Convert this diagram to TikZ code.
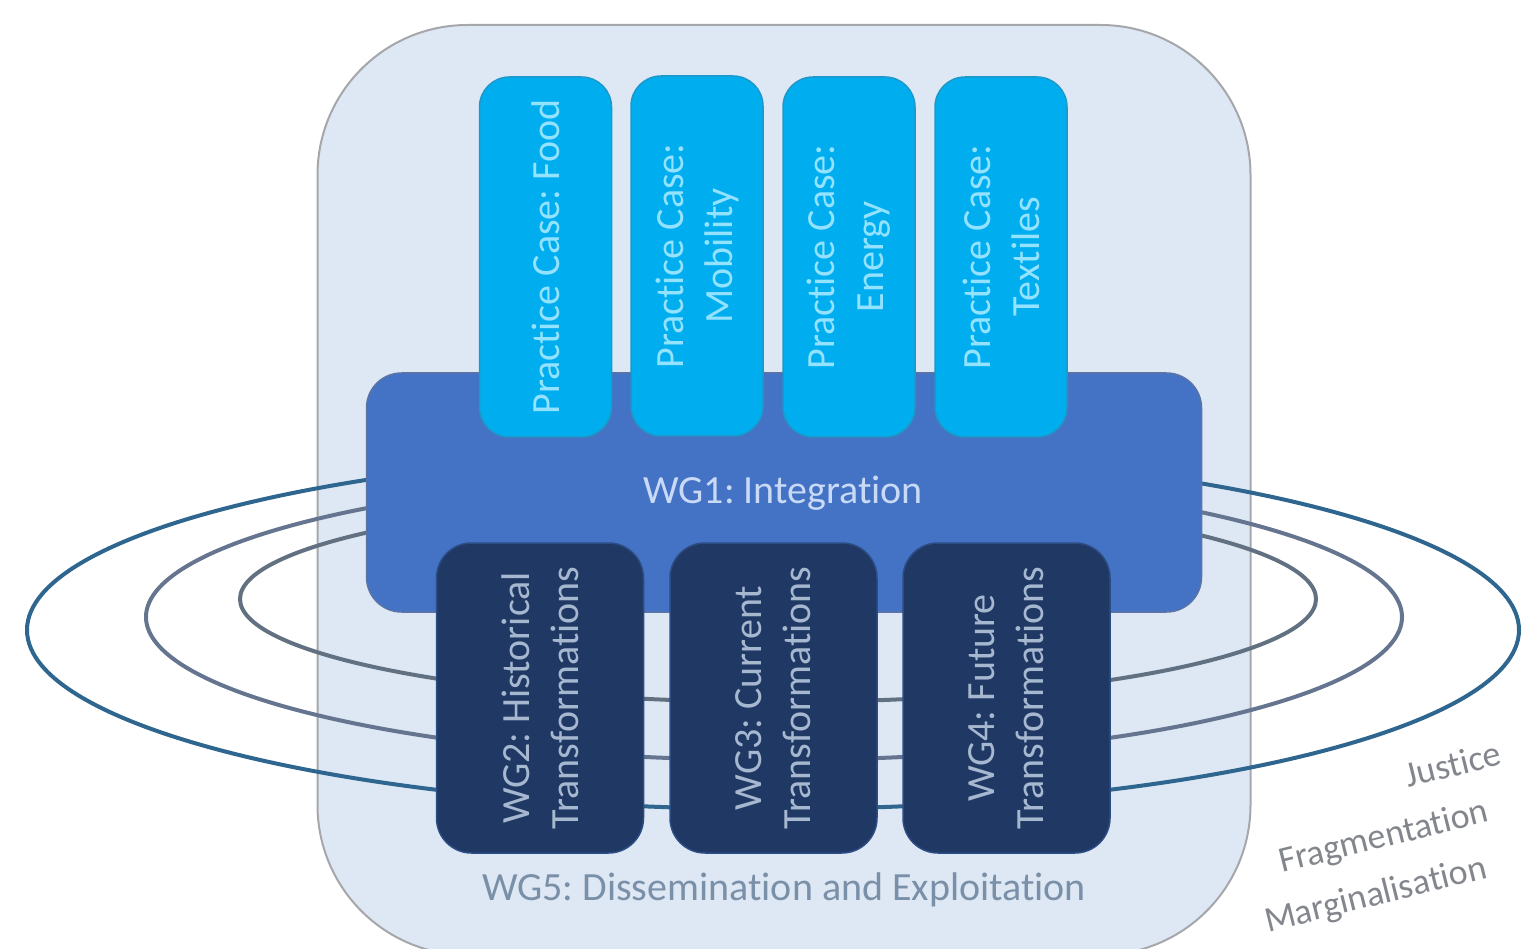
\documentclass[tikz,border=0pt]{standalone}
\usepackage{fontspec}
\setmainfont{Carlito}[Ligatures=NoCommon]
\frenchspacing
\definecolor{bgfill}{HTML}{DEE8F4}
\definecolor{bgline}{HTML}{A5A7AB}
\definecolor{wgone}{HTML}{4472C4}
\definecolor{wgoneline}{HTML}{5A74A6}
\definecolor{wgonetext}{HTML}{C8DAF5}
\definecolor{pcfill}{HTML}{00AEF0}
\definecolor{pcline}{HTML}{1E98C8}
\definecolor{pctext}{HTML}{93E2FF}
\definecolor{dkfill}{HTML}{203864}
\definecolor{dkline}{HTML}{2C4C84}
\definecolor{dktext}{HTML}{A6B8D0}
\definecolor{ringa}{HTML}{2F668F}
\definecolor{ringb}{HTML}{66758F}
\definecolor{ringc}{HTML}{627182}
\definecolor{wgfivetext}{HTML}{7A90A8}
\definecolor{themetext}{HTML}{83878D}
\begin{document}
\begin{tikzpicture}[x=1pt,y=1pt,
  bigfont/.style={font=\fontsize{40}{49}\selectfont},
  pcbox/.style={draw=pcline, line width=1.5pt, fill=pcfill, rounded corners=30pt,
    rotate=90, minimum width=360pt, minimum height=132pt, text=pctext,
    align=center, bigfont, inner sep=0pt},
  dkbox/.style={draw=dkline, line width=1.5pt, fill=dkfill, rounded corners=35pt,
    rotate=90, minimum width=310pt, minimum height=207pt, text=dktext,
    align=center, bigfont, inner sep=0pt},
  ring/.style={line width=4pt},
  theme/.style={text=themetext, rotate=14, font=\fontsize{36}{44}\selectfont, inner sep=0pt}
]
\useasboundingbox (0,0) rectangle (1532,-949);
% outer frame (WG5)
\node[draw=bgline, line width=2pt, fill=bgfill, rounded corners=150pt,
  minimum width=933pt, minimum height=930pt, inner sep=0pt] (wgfive) at (784,-490) {};
% rings
\draw[ring, draw=ringa] (773,-630) ellipse [x radius=746, y radius=179];
\draw[ring, draw=ringb] (774,-617) ellipse [x radius=628, y radius=143];
\draw[ring, draw=ringc] (778,-599) ellipse [x radius=538, y radius=103];
% WG1
\node[draw=wgoneline, line width=1.5pt, fill=wgone, rounded corners=35pt,
  minimum width=835pt, minimum height=239pt, inner sep=0pt] (wgone) at (784,-492.5) {};
\node[text=wgonetext, bigfont, anchor=center] (wgonelabel) at (783,-493) {WG1: Integration};
% practice cases
\node[pcbox] (food) at (545.5,-257) {Practice Case: Food};
\node[pcbox] (mobility) at (697,-256) {Practice Case:\\Mobility};
\node[pcbox] (energy) at (849,-257) {Practice Case:\\Energy};
\node[pcbox] (textiles) at (1001,-257) {Practice Case:\\Textiles};
% WG2-4
\node[dkbox] (wgtwo) at (540,-698) {WG2: Historical\\Transformations};
\node[dkbox] (wgthree) at (773.5,-698) {WG3: Current\\Transformations};
\node[dkbox] (wgfour) at (1006.5,-698) {WG4: Future\\Transformations};
% WG5 label
\node[text=wgfivetext, bigfont] (wgfivelabel) at (784,-890) {WG5: Dissemination and Exploitation};
% themes
\node[theme] (justice) at (1453,-764) {Justice};
\node[theme] (fragmentation) at (1384,-838) {Fragmentation};
\node[theme] (marginalisation) at (1376,-896) {Marginalisation};
\end{tikzpicture}
\end{document}
